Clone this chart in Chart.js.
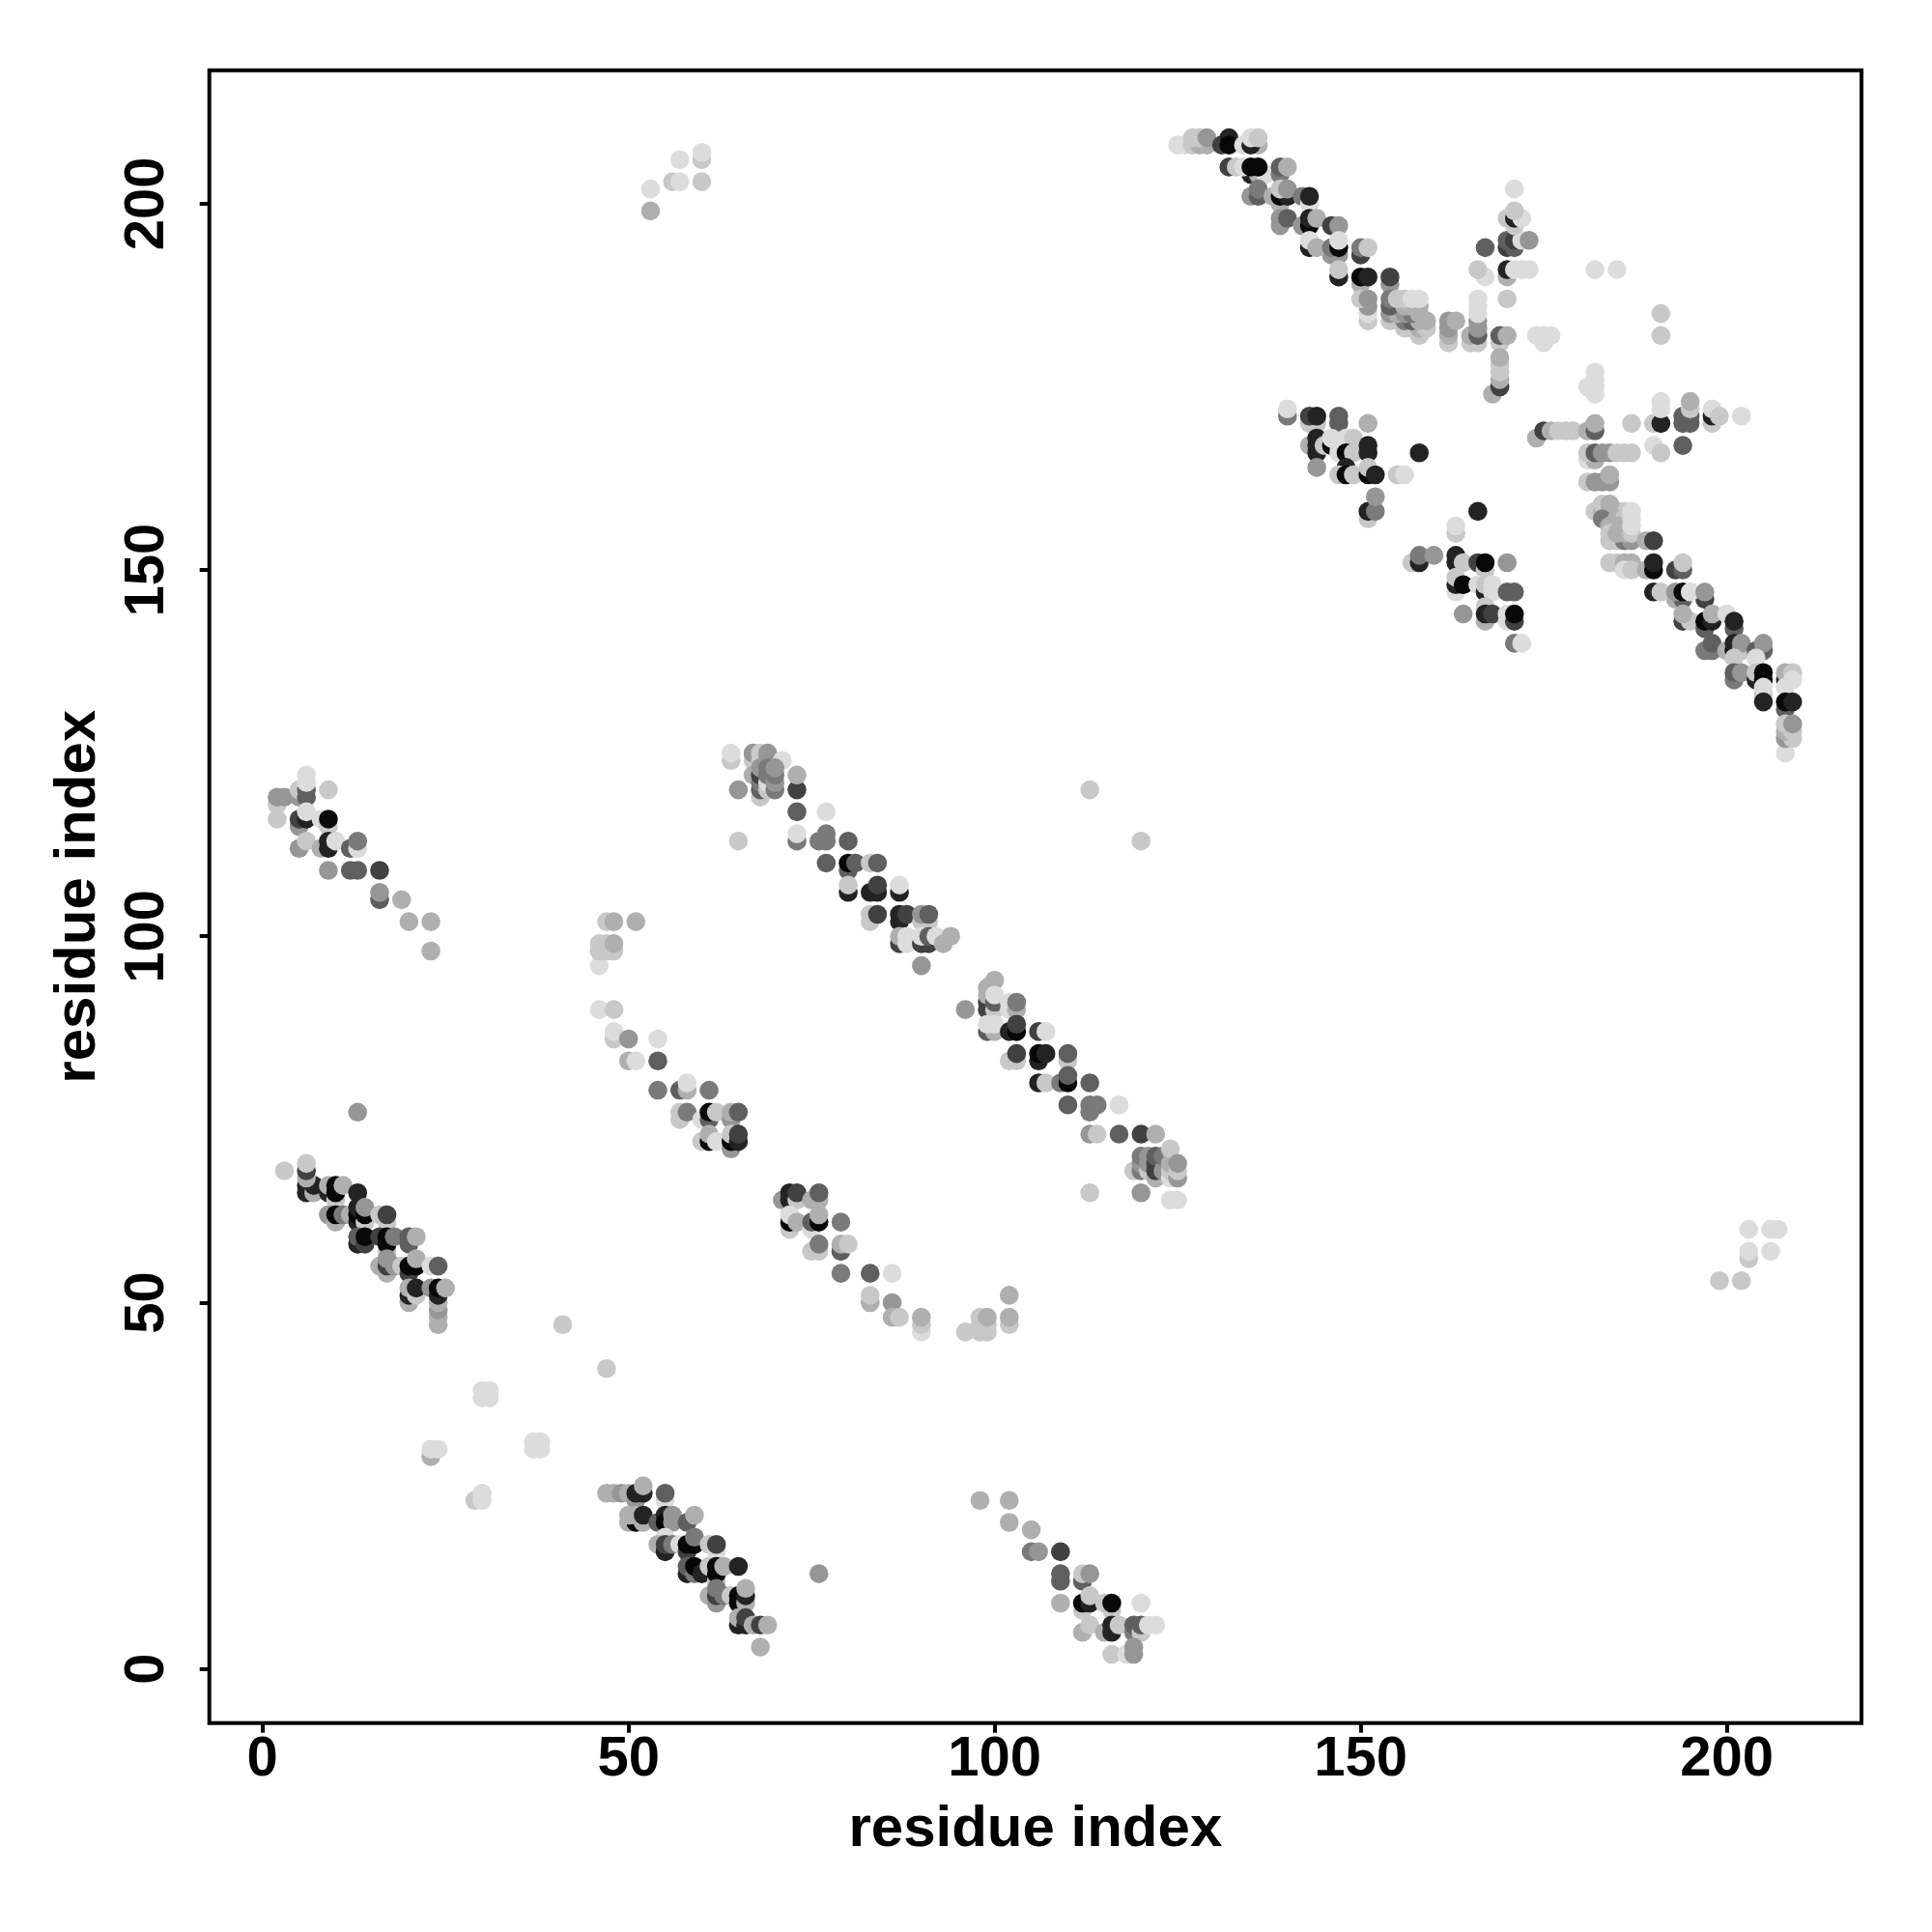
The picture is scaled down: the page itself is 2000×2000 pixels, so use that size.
<!DOCTYPE html>
<html><head><meta charset="utf-8">
<script src="https://cdn.jsdelivr.net/npm/chart.js@4"></script>
<style>html,body{margin:0;padding:0;background:#fff}canvas{display:block}</style>
</head><body><canvas id="c" width="2000" height="2000"></canvas>
<script>
// each contact: [residue i, residue j, score 1..9]
const topDiagonal = [[125,208,1],[126,208,1],[127,208,2],[128,208,3],[129,208,3],[127,209,2],[128,209,2],[129,209,4],[131,208,7],[132,209,8],[132,208,9],[134,208,1],[136,208,3],[135,208,8],[135,209,1],[136,209,2],
[135,204,8],[136,204,3],[137,204,1],[139,204,5],[132,205,7],[133,205,2],[134,205,1],[135,205,9],[136,205,9],[139,205,6],[140,205,3],
[135,201,4],[136,201,6],[136,202,5],[138,201,3],[139,200,3],[139,201,9],[140,201,8],[139,202,2],[140,202,4],[142,201,5],[143,200,1],[143,201,8],
[139,197,4],[139,198,4],[140,198,6],[142,197,4],[143,197,9],[143,198,8],[144,198,3],[146,197,7],[147,197,4],
[146,193,4],[147,193,4],[150,193,7],[143,194,8],[143,195,1],[144,194,3],[146,194,5],[147,194,9],[147,195,1],[150,194,5],[151,194,2],
[147,190,8],[147,191,2],[150,189,3],[154,189,4],[150,190,9],[151,190,8],[154,190,7],
[156,183,2],[157,183,2],[158,182,2],[158,183,3],[159,183,2],[151,184,2],[154,184,2],[155,184,2],[156,184,5],[157,184,6],[158,184,3],[159,184,3],
[151,185,1],[154,185,4],[155,185,3],[156,185,4],[157,185,5],[158,185,3],[154,186,6],[156,186,3],[157,186,3],[158,186,3],[151,186,4],[150,187,2],[151,187,4],[154,187,5],[155,187,2],[156,187,2],[157,187,1],[158,187,1],
[162,181,2],[162,182,3],[162,183,4],[162,184,4],[163,184,3],
[165,181,2],[166,181,2],[165,182,3],[166,182,6],[166,183,4],[166,184,4],[166,185,1],[166,186,1],[166,187,1],
[169,181,2],[169,182,6],[170,182,3],[168,174,3],[169,175,7],[169,176,3],[169,177,2],[169,178,2],[169,179,3],
[175,181,1],[174,182,1],[175,182,1],[176,182,1],[182,191,1],[185,191,1],[191,185,2],[191,182,2],
[181,175,1],[182,174,1],[182,175,1],[182,176,1],[182,177,1]];

const crossTop = [[170,187,2],[170,190,3],[167,190,1],[166,191,2],[170,191,8],[171,191,1],[172,191,1],[173,191,1],
[167,194,6],[170,194,7],[171,194,6],[170,195,6],[171,195,7],[172,195,1],[173,195,4],
[171,197,2],[170,198,2],[171,198,8],[172,198,1],[171,199,2],[171,202,1]];

const midUpper = [[140,171,5],[140,172,1],[143,170,2],[144,170,2],[143,171,7],[144,171,8],[147,170,6],[147,171,6],[151,170,3],
[143,167,3],[144,166,8],[144,167,8],[144,168,8],[145,167,2],[146,167,9],[147,166,1],[146,168,1],[147,167,1],[148,167,1],[148,168,1],[149,168,2],[148,166,9],[149,166,2],[151,166,8],[151,167,8],
[144,164,4],[148,164,8],[147,163,2],[148,163,9],[149,163,2],[151,163,9],[151,164,2],[152,163,8],[155,163,2],[156,163,1],[158,166,8],
[151,157,2],[151,158,8],[152,158,5],[152,160,4]];

const midLower = [[166,158,8],[163,155,2],[163,156,1],[157,151,2],[158,151,8],[158,152,5],[160,152,4],[163,151,8],[163,152,8],[164,151,2],[166,151,7],[167,150,2],[167,151,9],[170,151,4],
[163,147,1],[163,148,8],[163,149,2],[164,148,9],[166,148,1],[167,147,8],[167,148,2],[168,147,1],[168,148,1],[170,147,6],[171,147,6],[167,145,2],
[167,143,3],[164,144,4],[167,144,8],[168,144,7],[170,143,1],[170,144,1],[171,143,7],[171,144,9],[171,140,5],[172,140,1]];

const topRightBand = [[174,168,3],[175,169,7],[176,169,3],[177,169,2],[178,169,2],[179,169,2],[181,169,3],[182,169,6],[182,170,3],
[181,165,1],[182,165,3],[181,166,2],[182,166,6],[183,166,4],[184,166,4],[185,166,2],[186,166,2],[187,166,2],
[181,162,2],[182,162,4],[183,162,4],[184,162,4],[184,163,3],
[182,158,2],[183,158,3],[184,158,3],[185,158,3],[186,158,2],[183,159,2],[184,159,3],[184,154,2],[185,154,2],[186,154,5],[187,154,4],[183,157,2],[183,157,5],[185,157,3],[186,157,2],[184,156,3],[185,156,3],[184,155,2],[185,155,3],[186,155,3],[187,155,2],[187,156,1],[187,157,1],[187,158,1],
[189,154,3],[190,154,7],[184,151,2],[185,151,2],[186,151,3],[187,151,3],[186,150,1],[187,150,2],[189,150,3],[190,150,9],[190,151,8],[193,150,7],[194,150,6],[194,151,2],
[193,146,3],[194,146,6],[197,146,7],[190,147,8],[191,147,2],[193,147,4],[194,147,9],[195,147,1],[197,147,4],
[194,143,7],[195,143,2],[194,144,3],[197,142,6],[201,142,6],[197,143,9],[198,143,8],[198,144,3],[200,144,1],[201,143,8],
[197,139,5],[198,139,5],[198,140,6],[200,139,3],[201,139,9],[201,140,8],[202,139,2],[202,140,4],[204,139,6],[205,139,6],[205,140,4],[201,138,2],[204,138,1],
[201,135,5],[201,136,6],[202,136,4],[204,135,8],[204,136,2],[205,135,9],[205,136,9],[205,133,2],[205,134,1],[205,132,8],[208,135,8],[208,136,3],[209,136,2],[209,135,1],
[208,134,1],[208,131,6],[208,132,9],[209,132,8],[208,125,1],[208,127,4],[209,127,2],[208,128,3],[209,128,2],[208,129,2],[209,129,4]];

const upperRightSmall = [[187,170,2],[190,170,2],[190,167,1],[191,166,2],[194,167,6],[191,170,8],[191,172,1],[191,173,1],
[194,170,6],[195,170,6],[194,171,6],[195,171,6],[195,172,2],[195,173,3],[198,170,2],[198,171,8],[198,172,1],[199,171,2],[202,171,1]];

const bandF = [[64,124,2],[64,125,1],[67,124,2],[67,125,4],[68,124,2],[68,125,2],[69,124,4],[69,125,4],[71,124,1],
[67,122,3],[68,119,2],[68,120,6],[68,121,5],[68,122,7],[68,123,4],[69,120,2],[69,121,1],[69,122,5],[69,123,5],[70,120,5],[70,121,4],[70,122,5],[70,123,4],[65,120,4],
[73,120,7],[73,122,3],[73,117,6],[77,117,1],[73,113,5],[73,114,1],[65,113,2],[76,113,5],[77,113,5],[77,114,5],[80,113,6],
[77,110,6],[80,109,6],[80,110,9],[81,110,6],[83,110,2],[84,110,6],
[80,106,8],[80,107,2],[83,106,8],[84,106,8],[84,107,7],[87,106,8],[87,107,1],
[83,102,2],[83,103,2],[84,103,7],[87,102,8],[87,103,8],[88,103,7],[90,102,2],[91,102,2],[90,103,4],[91,103,6],
[87,99,7],[87,100,3],[88,99,1],[88,100,1],[90,99,7],[91,99,7],[90,100,1],[91,100,6],[92,100,1],[93,99,3],[94,100,3],[90,96,4],[113,120,2],[120,113,2]];

const bandG = [[96,90,4],[99,90,7],[99,91,7],[99,92,3],[99,93,3],[100,94,3],[100,90,2],[100,91,6],[100,92,1],[102,90,1],[102,91,1],[103,90,3],[103,91,5],
[99,87,6],[100,87,3],[99,88,1],[100,88,1],[102,87,8],[103,87,9],[103,88,7],[106,87,7],[107,87,1],
[102,83,2],[103,83,2],[103,84,7],[106,83,8],[106,84,9],[107,84,8],[110,83,2],[110,84,6],
[106,80,8],[107,80,2],[109,80,5],[110,80,9],[110,81,6],[113,80,6],[110,77,6],[113,76,5],[113,77,5],[114,77,5],[117,77,1],
[113,73,4],[114,73,2],[117,73,6],[120,73,7],[122,73,3],
[119,68,2],[120,68,5],[120,69,4],[120,70,5],[121,68,2],[121,69,4],[121,70,4],[122,67,3],[122,68,7],[122,69,7],[122,70,6],[123,68,4],[123,70,5],[124,67,1],[124,68,2],[124,69,3],[124,71,2],[125,67,4],[125,68,2],[125,69,4],
[113,65,2],[120,65,4],[124,64,1],[125,64,1]];

const bandH = [[2,118,2],[2,116,2],[2,119,4],[3,119,4],[5,119,4],[5,120,2],[6,119,6],[6,120,6],[6,121,1],[6,122,1],[9,120,2],
[5,115,4],[5,116,7],[6,116,8],[6,117,1],[8,116,1],[9,115,2],[9,116,9],
[5,112,4],[6,113,2],[8,112,3],[9,112,8],[9,113,8],[10,113,1],[12,112,6],[13,112,1],[13,113,5],
[9,109,4],[12,109,6],[13,109,6],[16,109,7],[16,105,6],[16,106,4],[19,105,3],[20,102,3],[23,102,3],[23,98,3]];

const bandLeftI = [[46,96,1],[46,98,2],[47,98,2],[48,98,2],[46,99,2],[47,99,2],[48,99,3],[47,102,2],[48,102,3],[51,102,3],
[46,90,1],[48,90,2],[48,86,2],[48,87,1],[50,86,4],[54,86,1],[50,83,3],[51,83,1],[54,83,6],
[54,79,5],[57,79,6],[58,79,3],[58,80,1],[61,79,5],[57,75,2],[57,76,2],[58,76,5],[60,75,1],[61,75,6],[61,76,9],[62,76,2],[64,75,4],[64,76,3],[65,76,6],
[60,72,2],[61,72,9],[61,73,3],[62,72,1],[64,71,4],[64,72,9],[64,73,2],[65,72,8],[65,73,7]];

const bandJ = [[71,64,4],[72,64,8],[72,65,8],[73,64,2],[73,65,7],[75,64,3],[76,64,3],[76,65,6],
[72,60,2],[72,61,9],[72,62,1],[73,61,3],[75,60,1],[75,61,6],[76,61,9],[76,62,3],[79,61,5],
[75,57,2],[76,57,2],[76,58,5],[79,57,6],[79,58,3],[80,58,2],[79,54,5],[83,54,6],[86,54,1],
[83,50,3],[83,51,2],[86,50,4],[86,48,3],[87,48,2],[90,46,1],[90,47,2],[90,48,3],
[96,46,2],[98,46,2],[99,46,2],[98,47,2],[99,47,2],[98,48,2],[99,48,3],[102,47,2],[102,48,3],[102,51,3]];

const bandK = [[3,68,2],[6,65,8],[6,66,8],[7,65,3],[7,66,8],[6,67,3],[6,68,7],[6,69,2],
[9,65,8],[9,66,3],[10,64,2],[10,65,9],[10,66,9],[11,66,3],[13,65,8],
[9,62,4],[10,61,3],[10,62,9],[11,62,5],[12,62,3],[13,61,8],[13,62,9],[13,63,8],[14,61,2],[14,62,9],[14,63,4],[16,62,2],[17,61,2],[17,62,7],
[13,58,8],[13,59,6],[14,58,7],[14,59,9],[16,59,7],[17,57,2],[17,58,9],[17,59,9],[18,59,5],[20,58,6],[20,59,6],[21,59,3],
[16,55,3],[17,54,3],[17,55,7],[17,56,4],[18,55,4],[19,55,2],[20,54,7],[20,55,9],[21,55,9],[21,56,3],[23,55,1],[24,55,6],
[20,50,3],[20,51,8],[20,52,3],[21,51,2],[21,52,8],[23,52,4],[24,47,3],[24,48,3],[24,49,4],[24,50,3],[24,51,8],[24,52,9],[25,52,3]];

const bandL = [[47,24,3],[48,24,3],[49,24,4],[50,24,3],[51,23,4],[51,24,8],[52,24,8],[52,25,3],[55,23,1],[55,24,6],
[50,20,3],[51,20,9],[50,21,3],[51,21,3],[52,20,3],[52,21,8],[54,20,6],[55,21,8],[55,20,9],[56,20,4],[56,21,4],[55,18,1],[58,20,6],[59,21,3],
[54,17,3],[55,16,8],[55,17,7],[56,17,5],[57,17,1],[58,16,7],[58,17,9],[59,17,9],[59,18,5],[61,17,2],[62,16,1],[62,17,7],
[58,13,8],[58,14,6],[59,13,5],[59,14,9],[60,13,8],[61,14,2],[62,12,2],[62,13,9],[62,14,9],[63,14,3],[65,14,8],
[61,10,3],[62,9,4],[62,10,7],[62,11,5],[63,10,5],[64,10,2],[65,9,9],[65,10,9],[66,9,3],[66,10,8],[66,11,3],
[65,6,8],[65,7,3],[66,6,8],[66,7,7],[67,6,3],[68,6,7],[69,6,3],[68,3,3]];

const bandM = [[98,23,3],[102,23,3],[102,20,3],[105,19,3],[105,16,5],[106,16,4],[109,16,7],
[109,12,6],[109,13,6],[112,12,6],[112,13,2],[113,13,4],[109,9,3],[112,8,2],[112,9,9],[113,9,8],[113,10,2],[115,9,2],[116,8,2],[116,9,9],[120,9,1],
[112,5,3],[113,6,2],[115,5,3],[116,5,8],[116,6,8],[117,6,2],[119,5,5],[119,6,6],[120,5,2],[120,6,6],[121,6,1],[122,6,1],
[116,2,2],[118,2,1],[119,2,4],[119,3,4]];

const isolated = [[13,76,4],[41,47,2],[47,41,2],[30,37,1],[31,37,1],[30,38,1],[31,38,1],[37,30,1],[38,30,1],[37,31,1],[38,31,1],
[23,29,3],[23,30,1],[24,30,1],[29,23,2],[30,23,1],[30,24,1],[76,13,4],
[53,199,3],[53,202,1],[56,203,2],[57,203,1],[57,206,1],[60,203,2],[60,206,2],[60,207,1],
[199,53,2],[202,53,2],[203,56,2],[203,57,1],[203,60,1],[206,57,1],[206,60,1],[207,60,1]];

const axisTicks = [0, 50, 100, 150, 200];
const axisTitle = "residue index";
const shades = [null,220,200,175,150,122,95,65,35,8];

const clusters = [isolated, bandM, bandL, bandK, bandJ, bandLeftI, bandH, bandG, bandF, upperRightSmall, topRightBand, midLower, midUpper, crossTop, topDiagonal];
const FONT = '"Liberation Sans", Arial, sans-serif';

const frame = { id:'frame', afterDraw(ch){ const a=ch.chartArea, c=ch.ctx; c.save(); c.strokeStyle='#000'; c.lineWidth=4; c.strokeRect(a.left,a.top,a.right-a.left,a.bottom-a.top); c.restore(); } };

function axis(min,max,extra){
  return Object.assign({
    type:'linear', min, max,
    grid:{display:true,drawOnChartArea:false,drawTicks:true,tickLength:10,color:'#000',lineWidth:4},
    border:{display:false},
    ticks:{stepSize:50,includeBounds:false,autoSkip:false,color:'#000',font:{family:FONT,size:58,weight:'bold'},
      callback:v=>axisTicks.includes(v)?String(v):''},
  },extra);
}
const xa = axis(-7.26,218.4,{title:{display:true,text:axisTitle,color:'#000',font:{family:FONT,size:60,weight:'bold'},padding:{top:0,bottom:70}},
  afterFit:s=>{s.height=216.3;}});
xa.ticks.padding=-7; xa.ticks.maxRotation=0; xa.ticks.minRotation=0;
const ya = axis(-7.38,218.2,{title:{display:true,text:axisTitle,color:'#000',font:{family:FONT,size:60,weight:'bold'},padding:{top:45,bottom:0}},
  afterFit:s=>{s.width=216.7;}});
ya.ticks.minRotation=90; ya.ticks.maxRotation=90; ya.ticks.crossAlign='center'; ya.ticks.padding=5;

new Chart(document.getElementById('c'),{
  type:'scatter',
  data:{datasets:clusters.map(cl=>({
    data:cl.map(([x,y,score])=>({x,y,score})),
    pointRadius:9.8,pointBorderWidth:0,pointHoverRadius:9.8,
    pointBackgroundColor:ctx=>{const g=shades[ctx.raw.score];return `rgb(${g},${g},${g})`;}
  }))},
  options:{responsive:false,devicePixelRatio:1,animation:false,
    layout:{padding:{left:0,top:72.8,right:73,bottom:0}},
    plugins:{legend:{display:false},tooltip:{enabled:false}},
    scales:{x:xa,y:ya}},
  plugins:[frame]
});
</script></body></html>
